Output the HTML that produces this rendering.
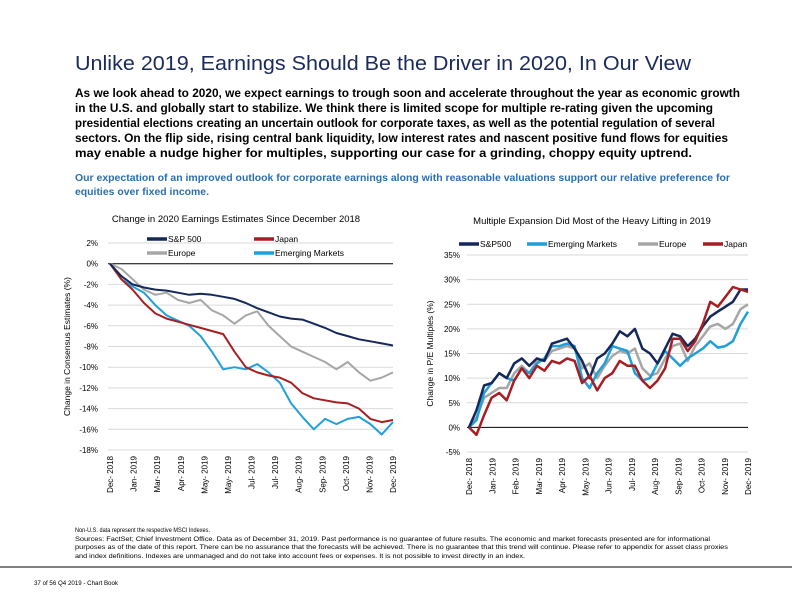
<!DOCTYPE html>
<html><head><meta charset="utf-8"><style>
html,body{margin:0;padding:0;background:#fff;}
svg{display:block;font-family:"Liberation Sans",sans-serif;}
</style></head><body>
<svg id="s" width="792" height="612" viewBox="0 0 792 612" xmlns="http://www.w3.org/2000/svg">
<text x="75" y="70" font-size="20" fill="#1b2a5c" textLength="616" lengthAdjust="spacingAndGlyphs">Unlike 2019, Earnings Should Be the Driver in 2020, In Our View</text>
<g font-size="12" font-weight="bold" fill="#000">
<text x="75" y="97" textLength="665" lengthAdjust="spacingAndGlyphs">As we look ahead to 2020, we expect earnings to trough soon and accelerate throughout the year as economic growth</text>
<text x="75" y="112" textLength="638" lengthAdjust="spacingAndGlyphs">in the U.S. and globally start to stabilize. We think there is limited scope for multiple re-rating given the upcoming</text>
<text x="75" y="127" textLength="640" lengthAdjust="spacingAndGlyphs">presidential elections creating an uncertain outlook for corporate taxes, as well as the potential regulation of several</text>
<text x="75" y="142" textLength="653" lengthAdjust="spacingAndGlyphs">sectors. On the flip side, rising central bank liquidity, low interest rates and nascent positive fund flows for equities</text>
<text x="75" y="157" textLength="617" lengthAdjust="spacingAndGlyphs">may enable a nudge higher for multiples, supporting our case for a grinding, choppy equity uptrend.</text>
</g>
<g font-size="10.5" font-weight="bold" fill="#2a6fb0">
<text x="75" y="181" textLength="655" lengthAdjust="spacingAndGlyphs">Our expectation of an improved outlook for corporate earnings along with reasonable valuations support our relative preference for</text>
<text x="75" y="195" textLength="134" lengthAdjust="spacingAndGlyphs">equities over fixed income.</text>
</g>
<g id="left"></g>
<g id="right"></g>
<g font-size="6" fill="#000">
<text x="75" y="532" textLength="135" lengthAdjust="spacingAndGlyphs">Non-U.S. data represent the respective MSCI Indexes.</text>
<text x="75" y="541" textLength="635" lengthAdjust="spacingAndGlyphs">Sources: FactSet; Chief Investment Office. Data as of December 31, 2019. Past performance is no guarantee of future results. The economic and market forecasts presented are for informational</text>
<text x="75" y="549" textLength="653" lengthAdjust="spacingAndGlyphs">purposes as of the date of this report. There can be no assurance that the forecasts will be achieved. There is no guarantee that this trend will continue. Please refer to appendix for asset class proxies</text>
<text x="75" y="558" textLength="450" lengthAdjust="spacingAndGlyphs">and index definitions. Indexes are unmanaged and do not take into account fees or expenses. It is not possible to invest directly in an index.</text>
</g>
<line x1="0" y1="567" x2="792" y2="567" stroke="#000" stroke-width="1"/>
<text x="34" y="585" font-size="6.5" fill="#000" textLength="84" lengthAdjust="spacingAndGlyphs">37 of 56 Q4 2019 - Chart Book</text>
</svg>
<script>
// Left chart data (% change in 2020 earnings estimates)
const leftMonths = ["Dec- 2018","Jan- 2019","Mar- 2019","Apr- 2019","May- 2019","May- 2019","Jul- 2019","Jul- 2019","Aug- 2019","Sep- 2019","Oct- 2019","Nov- 2019","Dec- 2019"];
const leftTicks = [2,0,-2,-4,-6,-8,-10,-12,-14,-16,-18];
const leftSP = [0,-1.2,-2,-2.3,-2.5,-2.6,-2.8,-3,-2.9,-3.0,-3.2,-3.4,-3.8,-4.3,-4.7,-5.1,-5.3,-5.4,-5.8,-6.2,-6.7,-7.0,-7.3,-7.5,-7.7,-7.9];
const leftEurope = [0,-0.5,-1.5,-2.5,-3.0,-2.8,-3.5,-3.8,-3.5,-4.5,-5.0,-5.8,-5.0,-4.6,-6.0,-7.0,-8.0,-8.5,-9.0,-9.5,-10.2,-9.5,-10.5,-11.3,-11.0,-10.5];
const leftJapan = [0,-1.5,-2.5,-3.8,-4.8,-5.3,-5.6,-5.9,-6.2,-6.5,-6.8,-8.5,-10,-10.5,-10.8,-11.0,-11.5,-12.5,-13.0,-13.2,-13.4,-13.5,-14.0,-15.0,-15.3,-15.1];
const leftEM = [0,-1.5,-2.2,-2.8,-4.0,-5.0,-5.5,-6.0,-7.0,-8.5,-10.2,-10.0,-10.2,-9.7,-10.5,-11.5,-13.5,-14.8,-16.0,-15.0,-15.5,-15.0,-14.8,-15.5,-16.5,-15.3];
// Right chart data (% change in P/E multiples)
const rightMonths = ["Dec- 2018","Jan- 2019","Feb- 2019","Mar- 2019","Apr- 2019","May- 2019","Jun- 2019","Jul- 2019","Aug- 2019","Sep- 2019","Oct- 2019","Nov- 2019","Dec- 2019"];
const rightTicks = [35,30,25,20,15,10,5,0,-5];
const rightSP = [0,3.5,8.5,9,11,10,13,14,12.5,14,13.5,17,17.5,18,16,13.5,10,14,15,17,19.5,18.5,20,16,15,13,16,19,18.5,16.5,18,20.5,22.5,23.5,24.5,25.5,28,28];
const rightEM = [0,1.5,7,9,11,10,9.5,12,11,13,14,16.5,16.5,17,16.5,10,8,11,13,16.5,16,15.5,11,9.5,10,13,15.5,14,12.5,14,15,16,17.5,16.2,16.5,17.5,21,23.5];
const rightEurope = [0,2,6,7,8,8,11,12.5,11,13.5,13.5,15.5,16,16.5,16,12,13,10,12.5,14.5,15.5,15,16,12,10.5,11,14,16.5,17,13.5,16.5,18.5,20.5,21,20,21,24,25];
const rightJapan = [0,-1.5,2.5,6,7,5.5,9.5,12,10,12.5,11.5,13.5,13,14,13.5,9,10.5,7.5,10,11,13.5,12.5,12.5,9.5,8,9.5,12,18,18,15.5,17.5,21,25.5,24.5,26.5,28.5,28,27.5];

const NS="http://www.w3.org/2000/svg";
function mk(parent,tag,attrs,txt){const e=document.createElementNS(NS,tag);for(const k in attrs)e.setAttribute(k,attrs[k]);if(txt!==undefined)e.textContent=txt;parent.appendChild(e);return e;}
const C={sp:"#14285a",eu:"#a6a6a6",jp:"#a71e22",em:"#1fa0d8"};

function drawChart(g,cfg){
  const yS=v=>cfg.y0+(cfg.ymax-v)/(cfg.ymax-cfg.ymin)*(cfg.y1-cfg.y0);
  const xM=i=>cfg.x0+i/(cfg.months.length-1)*(cfg.x1-cfg.x0);
  cfg.ticks.forEach(t=>{
    const gl=mk(g,"line",{x1:cfg.x0-2,x2:cfg.x1,y1:yS(t),y2:yS(t),stroke:t===0?"#000":"#d9d9d9","stroke-width":t===0?1:1});
    
    
    const tl=mk(g,"text",{x:cfg.tx,y:yS(t)+3,"font-size":8,"text-anchor":"end",fill:"#000"},t+"%");
    
    
  });
  cfg.months.forEach((m,i)=>{
    const x=xM(i), y=cfg.y1+6;
    const ml=mk(g,"text",{x:x+3,y:y,"font-size":8,"text-anchor":"end",transform:`rotate(-90 ${x+3} ${y})`,fill:"#000"},m);
    
    
  });
  cfg.series.forEach(s=>{
    const xs=i=>cfg.x0+i/(s.data.length-1)*(cfg.x1-cfg.x0);
    const d=s.data.map((v,i)=>(i?"L":"M")+xs(i).toFixed(1)+","+yS(v).toFixed(1)).join("");
    const p=mk(g,"path",{d:d,fill:"none",stroke:s.c,"stroke-width":cfg.sw,"stroke-linejoin":"round"});
    
    
  });
  const tt=mk(g,"text",{x:cfg.tcx,y:cfg.ty,"font-size":9.5,"text-anchor":"middle",fill:"#000"},cfg.title);
  
  
  const yx=cfg.ytx, yc=(cfg.y0+cfg.y1)/2;
  const yt=mk(g,"text",{x:yx,y:yc,"font-size":8.5,"text-anchor":"middle",transform:`rotate(-90 ${yx} ${yc})`,fill:"#000"},cfg.ytitle);
  
  
  cfg.legend.forEach(l=>{
    const lg=mk(g,"g",{});
    
    
    mk(lg,"line",{x1:l.x,x2:l.x+20,y1:l.y,y2:l.y,stroke:l.c,"stroke-width":3.5});
    mk(lg,"text",{x:l.x+21,y:l.y+3,"font-size":8.5,fill:"#000"},l.t);
  });
}
drawChart(document.getElementById("left"),{
  x0:110,x1:393,y0:243,y1:450,ymax:2,ymin:-18,ticks:leftTicks,months:leftMonths,tx:98,sw:2,
  title:"Change in 2020 Earnings Estimates Since December 2018",tcx:236,ty:222,
  ytitle:"Change in Consensus Estimates (%)",ytx:70,
  series:[{data:leftEurope,c:C.eu,name:"europe"},{data:leftEM,c:C.em,name:"emerging-markets"},{data:leftJapan,c:C.jp,name:"japan"},{data:leftSP,c:C.sp,name:"sp500"}],
  legend:[{x:147,y:239,c:C.sp,t:"S&P 500"},{x:254,y:239,c:C.jp,t:"Japan"},{x:147,y:253,c:C.eu,t:"Europe"},{x:254,y:253,c:C.em,t:"Emerging Markets"}]
});
drawChart(document.getElementById("right"),{
  x0:469,x1:748,y0:255,y1:452,ymax:35,ymin:-5,ticks:rightTicks,months:rightMonths,tx:460,sw:2.5,
  title:"Multiple Expansion Did Most of the Heavy Lifting in 2019",tcx:592,ty:224,
  ytitle:"Change in P/E Multiples (%)",ytx:433,
  series:[{data:rightEurope,c:C.eu,name:"europe"},{data:rightEM,c:C.em,name:"emerging-markets"},{data:rightSP,c:C.sp,name:"sp500"},{data:rightJapan,c:C.jp,name:"japan"}],
  legend:[{x:459,y:244,c:C.sp,t:"S&P500"},{x:527,y:244,c:C.em,t:"Emerging Markets"},{x:638,y:244,c:C.eu,t:"Europe"},{x:703,y:244,c:C.jp,t:"Japan"}]
});
</script>
</body></html>
